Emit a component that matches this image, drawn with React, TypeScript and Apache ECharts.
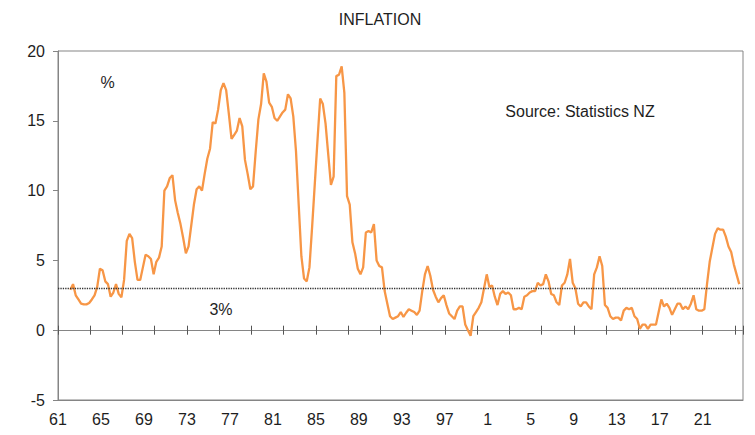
import React, { useEffect, useRef } from "react";
import * as echarts from "echarts";

// Annual CPI inflation (%), quarterly, starting 1962 Q1
const firstYear = 1962;
const cpi1960s = [
  2.9, 3.3, 2.5, 2.2,
  1.9, 1.85, 1.85, 1.95,
  2.2, 2.5, 3.1, 4.4,
  4.3, 3.5, 3.3, 2.4,
  2.7, 3.3, 2.6, 2.35,
  3.6, 6.4, 6.9, 6.6,
  4.9, 3.6, 3.6, 4.5,
  5.4, 5.3, 5.1, 4.0,
];
const cpi1970s = [
  4.9, 5.2, 6.0, 10.0,
  10.3, 10.9, 11.1, 9.3,
  8.4, 7.6, 6.6, 5.5,
  6.0, 7.5, 9.0, 10.1,
  10.3, 10.0, 11.2, 12.3,
  13.0, 14.9, 14.8, 15.8,
  17.2, 17.7, 17.2, 15.5,
  13.7, 14.0, 14.3, 15.2,
  14.6, 12.2, 11.2, 10.1,
  10.3, 12.8, 15.1, 16.2,
];
const cpi1980s = [
  18.4, 17.8, 16.3, 16.0,
  15.2, 15.0, 15.3, 15.6,
  15.8, 16.9, 16.6, 15.3,
  12.8, 9.0, 5.3, 3.7,
  3.5, 4.5, 7.4, 10.5,
  13.6, 16.6, 16.2, 14.8,
  12.6, 10.4, 11.0, 18.2,
  18.3, 18.9, 17.0, 9.6,
  9.0, 6.3, 5.5, 4.4,
  4.0, 4.5, 7.0, 7.1,
];
const cpi1990s = [
  7.0, 7.6, 5.0, 4.6,
  4.5, 2.8, 1.9, 1.0,
  0.8, 0.9, 1.0, 1.3,
  0.95, 1.25, 1.5, 1.4,
  1.3, 1.1, 1.4, 2.8,
  4.0, 4.6, 3.9, 2.9,
  2.4, 2.0, 2.3, 2.5,
  1.8, 1.2, 1.0, 0.8,
  1.4, 1.7, 1.7, 0.4,
  0.0, -0.4, 1.0, 1.3,
];
const cpi2000s = [
  1.6, 2.0, 3.0, 4.0,
  3.1, 3.2, 2.4, 1.8,
  2.6, 2.8, 2.6, 2.7,
  2.5, 1.5, 1.5, 1.6,
  1.5, 2.4, 2.5, 2.7,
  2.8, 2.8, 3.4, 3.2,
  3.3, 4.0, 3.5, 2.6,
  2.5, 2.0, 1.8, 3.2,
  3.4, 4.0, 5.1, 3.4,
  3.0, 1.9, 1.7, 2.0,
];
const cpi2010s = [
  2.0, 1.7, 1.5, 4.0,
  4.5, 5.3, 4.6, 1.8,
  1.6, 1.0, 0.8, 0.9,
  0.9, 0.7, 1.4, 1.6,
  1.5, 1.6, 1.0, 0.8,
  0.1, 0.4, 0.4, 0.1,
  0.4, 0.4, 0.4, 1.3,
  2.2, 1.7, 1.9, 1.6,
  1.1, 1.5, 1.9, 1.9,
  1.5, 1.7, 1.5, 1.9,
];
const cpi2020s = [
  2.5, 1.5, 1.4, 1.4,
  1.5, 3.3, 4.9, 5.9,
  6.9, 7.3, 7.2, 7.2,
  6.7, 6.0, 5.6, 4.7,
  4.0, 3.3,
];

const targetRate = 3;
const xMinYear = 1961;
const xMaxYear = 2024.75;
const xLabelStep = 4;
const xTickStep = 3;
const yMin = -5;
const yMax = 20;
const yStep = 5;

const titleText = "INFLATION";
const unitText = "%";
const sourceText = "Source: Statistics NZ";
const targetText = "3%";

export default function App() {
  const ref = useRef<HTMLDivElement>(null);

  useEffect(() => {
    document.body.style.margin = "0";
    const chart = echarts.init(ref.current as HTMLDivElement, null, { renderer: "svg" });
    const values = [...cpi1960s, ...cpi1970s, ...cpi1980s, ...cpi1990s, ...cpi2000s, ...cpi2010s, ...cpi2020s];
    const data = values.map((v, i) => [firstYear + i * 0.25 + 0.15, v]);
    const font = "'Liberation Sans', Arial, sans-serif";
    const grey = "#858585";
    const textColor = "#1e1e1e";

    const tickAxis = (inside: boolean) => ({
      type: "value",
      min: xMinYear,
      max: xMaxYear,
      interval: xTickStep,
      position: "bottom",
      axisLine: { show: true, onZero: true, onZeroAxisIndex: 0, lineStyle: { color: grey, width: 1 } },
      axisTick: { show: true, inside, length: 4.5, lineStyle: { color: "#555", width: 1 } },
      axisLabel: { show: false },
      splitLine: { show: false },
    });

    chart.setOption({
      animation: false,
      grid: {
        left: 58,
        right: 12,
        top: 51,
        bottom: 35,
        show: true,
        borderColor: grey,
        borderWidth: 1,
        containLabel: false,
      },
      xAxis: [
        {
          type: "value",
          min: xMinYear,
          max: xMaxYear,
          interval: xLabelStep,
          position: "bottom",
          axisLine: { show: true, onZero: false, lineStyle: { color: grey, width: 1 } },
          axisTick: { show: false },
          splitLine: { show: false },
          axisLabel: {
            formatter: (v: number) => (Number.isInteger(v) ? String(v % 100) : ""),
            fontSize: 16,
            fontFamily: font,
            color: textColor,
            margin: 11,
          },
        },
        tickAxis(false),
        tickAxis(true),
      ],
      yAxis: {
        type: "value",
        min: yMin,
        max: yMax,
        interval: yStep,
        axisLine: { show: true, onZero: false, lineStyle: { color: grey, width: 1 } },
        axisTick: { show: true, length: 5, lineStyle: { color: grey, width: 1 } },
        splitLine: { show: false },
        axisLabel: { fontSize: 16, fontFamily: font, color: textColor, margin: 13 },
      },
      series: [
        {
          type: "line",
          data,
          xAxisIndex: 0,
          symbol: "none",
          lineStyle: { color: "#F79646", width: 2.3 },
          z: 3,
          markLine: {
            silent: true,
            symbol: "none",
            label: { show: false },
            lineStyle: { color: "#333", width: 1.4, type: [1.3, 1.1] },
            data: [{ yAxis: targetRate }],
          },
        },
      ],
      graphic: [
        {
          type: "text",
          x: 380,
          y: 19,
          style: { text: titleText, fontSize: 16, fontFamily: font, fill: textColor, textAlign: "center", textVerticalAlign: "middle" },
        },
        {
          type: "text",
          x: 107.5,
          y: 82.5,
          style: { text: unitText, fontSize: 16, fontFamily: font, fill: textColor, textAlign: "center", textVerticalAlign: "middle" },
        },
        {
          type: "text",
          x: 580,
          y: 111.5,
          style: { text: sourceText, fontSize: 16, fontFamily: font, fill: textColor, textAlign: "center", textVerticalAlign: "middle" },
        },
        {
          type: "text",
          x: 221,
          y: 309,
          style: { text: targetText, fontSize: 16, fontFamily: font, fill: textColor, textAlign: "center", textVerticalAlign: "middle" },
        },
      ],
    });

    return () => chart.dispose();
  }, []);

  return <div ref={ref} style={{ width: 755, height: 435, position: "absolute", left: 0, top: 0 }} />;
}
